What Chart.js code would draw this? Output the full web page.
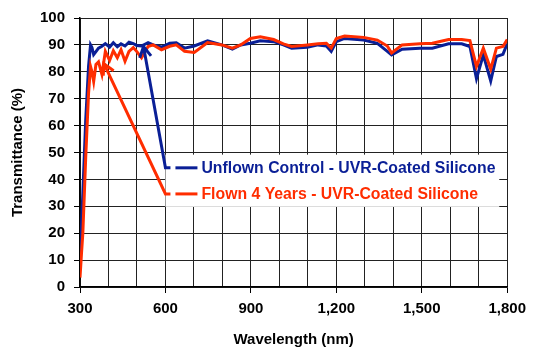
<!DOCTYPE html>
<html>
<head>
<meta charset="utf-8">
<script src="https://cdn.jsdelivr.net/npm/chart.js@4.4.0/dist/chart.umd.min.js"></script>
<style>
  html, body { margin: 0; padding: 0; background: #fff; }
  #wrap { width: 533px; height: 353px; }
</style>
</head>
<body>
<div id="wrap"><canvas id="canvas"></canvas></div>
<script>
// wavelength (nm) sampled along both curves
const wavelength = [300, 305, 310, 320, 330, 337, 342, 348, 356, 365, 377, 389, 404, 417, 431, 444, 458, 472, 487, 499,
    516, 539, 557, 586, 615, 638, 667, 701, 748, 798, 835, 864, 898, 933, 980, 1014, 1043, 1098, 1136, 1165,
    1182, 1200, 1229, 1296, 1344, 1379, 1394, 1431, 1493, 1537, 1594, 1640, 1669, 1692, 1716, 1742, 1762, 1785, 1800]

// transmittance (%)
const unflown = [12, 22, 35, 62, 82, 90, 89, 86.4, 87.5, 88.8, 89.5, 90.5, 89.2, 90.8, 89.3, 90.4, 89.6, 91, 90.5, 89.8,
    89.6, 90.8, 90, 89.2, 90.6, 90.8, 88.8, 89.6, 91.5, 90, 88.4, 90, 90.6, 91.5, 91.2, 90, 88.8, 89.1, 90, 89.6,
    87.6, 91.2, 92.4, 91.8, 90.6, 87.6, 86.3, 88.4, 88.8, 88.8, 90.4, 90.4, 89.4, 77.4, 86.3, 76.6, 85.7, 86.5, 90.5]

const flown = [3.5, 12, 20, 48, 72, 82, 80, 76.4, 82.7, 83.7, 79, 87.6, 84.2, 87.8, 85.2, 88.2, 83.9, 87.6, 89, 87.6,
    85.2, 89.4, 90, 88.2, 89.5, 90, 87.6, 87.2, 90.9, 90, 88.8, 90, 92.4, 93, 92, 90.4, 89.4, 90, 90.4, 90.6,
    88.8, 92.4, 93.3, 92.8, 91.8, 89.6, 87, 90, 90.4, 90.6, 92, 92, 91.6, 82, 88.8, 81, 88.8, 89.4, 92]

const seriesNames = ["Unflown Control - UVR-Coated Silicone", "Flown 4 Years - UVR-Coated Silicone"]
const seriesColors = ["#0a1f96", "#ff2d00"]

// callout arrows, in data units: tip on the curve, and the level of the legend entry
const arrowTip = [[523, 89.4], [384, 83]]
const legendLevel = [44.3, 34.6]
const legendCornerX = 600
const legendBox = { x: [600, 1772], y: [29.8, 49.2] }

const FONT = "'Liberation Sans', Arial, Helvetica, sans-serif"

const callout = {
    id: "callout",
    afterDatasetsDraw(chart) {
        const ctx = chart.ctx
        const xs = chart.scales.x, ys = chart.scales.y
        ctx.save()
        let bx0 = xs.getPixelForValue(legendBox.x[0]), bx1 = xs.getPixelForValue(legendBox.x[1])
        let by0 = ys.getPixelForValue(legendBox.y[1]), by1 = ys.getPixelForValue(legendBox.y[0])
        ctx.fillStyle = "#fff"
        ctx.fillRect(bx0, by0, bx1 - bx0, by1 - by0)

        seriesNames.forEach((name, i) => {
            const tx = xs.getPixelForValue(arrowTip[i][0]), ty = ys.getPixelForValue(arrowTip[i][1])
            const cx = xs.getPixelForValue(legendCornerX), cy = ys.getPixelForValue(legendLevel[i])
            ctx.strokeStyle = seriesColors[i]
            ctx.lineWidth = 3
            ctx.lineJoin = "miter"
            ctx.lineCap = "butt"
            ctx.beginPath()
            ctx.moveTo(tx, ty)
            ctx.lineTo(cx, cy)
            ctx.lineTo(cx + 5, cy)
            ctx.stroke()
            // open arrow head
            const ang = Math.atan2(ty - cy, tx - cx)
            const len = 12, spread = 0.5
            ctx.beginPath()
            ctx.moveTo(tx - len * Math.cos(ang - spread), ty - len * Math.sin(ang - spread))
            ctx.lineTo(tx, ty)
            ctx.lineTo(tx - len * Math.cos(ang + spread), ty - len * Math.sin(ang + spread))
            ctx.stroke()
            // legend key
            ctx.beginPath()
            ctx.moveTo(cx + 10, cy)
            ctx.lineTo(cx + 32, cy)
            ctx.stroke()
            ctx.fillStyle = seriesColors[i]
            ctx.font = "bold 15.8px " + FONT
            ctx.textBaseline = "middle"
            ctx.textAlign = "left"
            ctx.fillText(name, cx + 36, cy + 1)
        })
        ctx.restore()
    }
}

const datasets = [unflown, flown].map((vals, i) => ({
    label: seriesNames[i],
    data: wavelength.map((w, k) => ({ x: w, y: vals[k] })),
    borderColor: seriesColors[i],
    borderWidth: 3,
    pointRadius: 0,
    tension: 0,
    fill: false,
}))

const tickFont = { family: FONT, size: 15, weight: "bold" }

new Chart(document.getElementById("canvas"), {
    type: "line",
    data: { datasets: datasets.reverse() },
    options: {
        responsive: true,
        maintainAspectRatio: false,
        animation: false,
        layout: { padding: { top: 13, right: 21, left: 0, bottom: 0 } },
        plugins: { legend: { display: false }, tooltip: { enabled: false } },
        scales: {
            x: {
                type: "linear",
                min: 300,
                max: 1800,
                afterFit: s => { s.height = 66 },
                ticks: {
                    stepSize: 100,
                    autoSkip: false,
                    maxRotation: 0,
                    color: "#000",
                    font: tickFont,
                    padding: 7,
                    callback: v => v % 300 === 0 ? v.toLocaleString("en-US") : "",
                },
                grid: {
                    color: "#222",
                    lineWidth: 1,
                    tickLength: 6,
                    tickColor: c => (c.tick && c.tick.value % 300 === 0) ? "#000" : "rgba(0,0,0,0)",
                },
                border: { color: "#000", width: 1.5 },
                title: { display: true, text: "Wavelength (nm)", color: "#000", font: tickFont, padding: { top: 0, bottom: 4 } },
            },
            y: {
                min: 0,
                max: 100,
                afterFit: s => { s.width = 80 },
                ticks: { stepSize: 10, color: "#000", font: tickFont, padding: 9 },
                grid: { color: "#222", lineWidth: 1, tickLength: 6, tickColor: "#000" },
                border: { color: "#000", width: 1.5 },
                title: { display: true, text: "Transmittance (%)", color: "#000", font: tickFont, padding: { top: 9, bottom: 0 } },
            },
        },
    },
    plugins: [callout],
})
</script>
</body>
</html>
